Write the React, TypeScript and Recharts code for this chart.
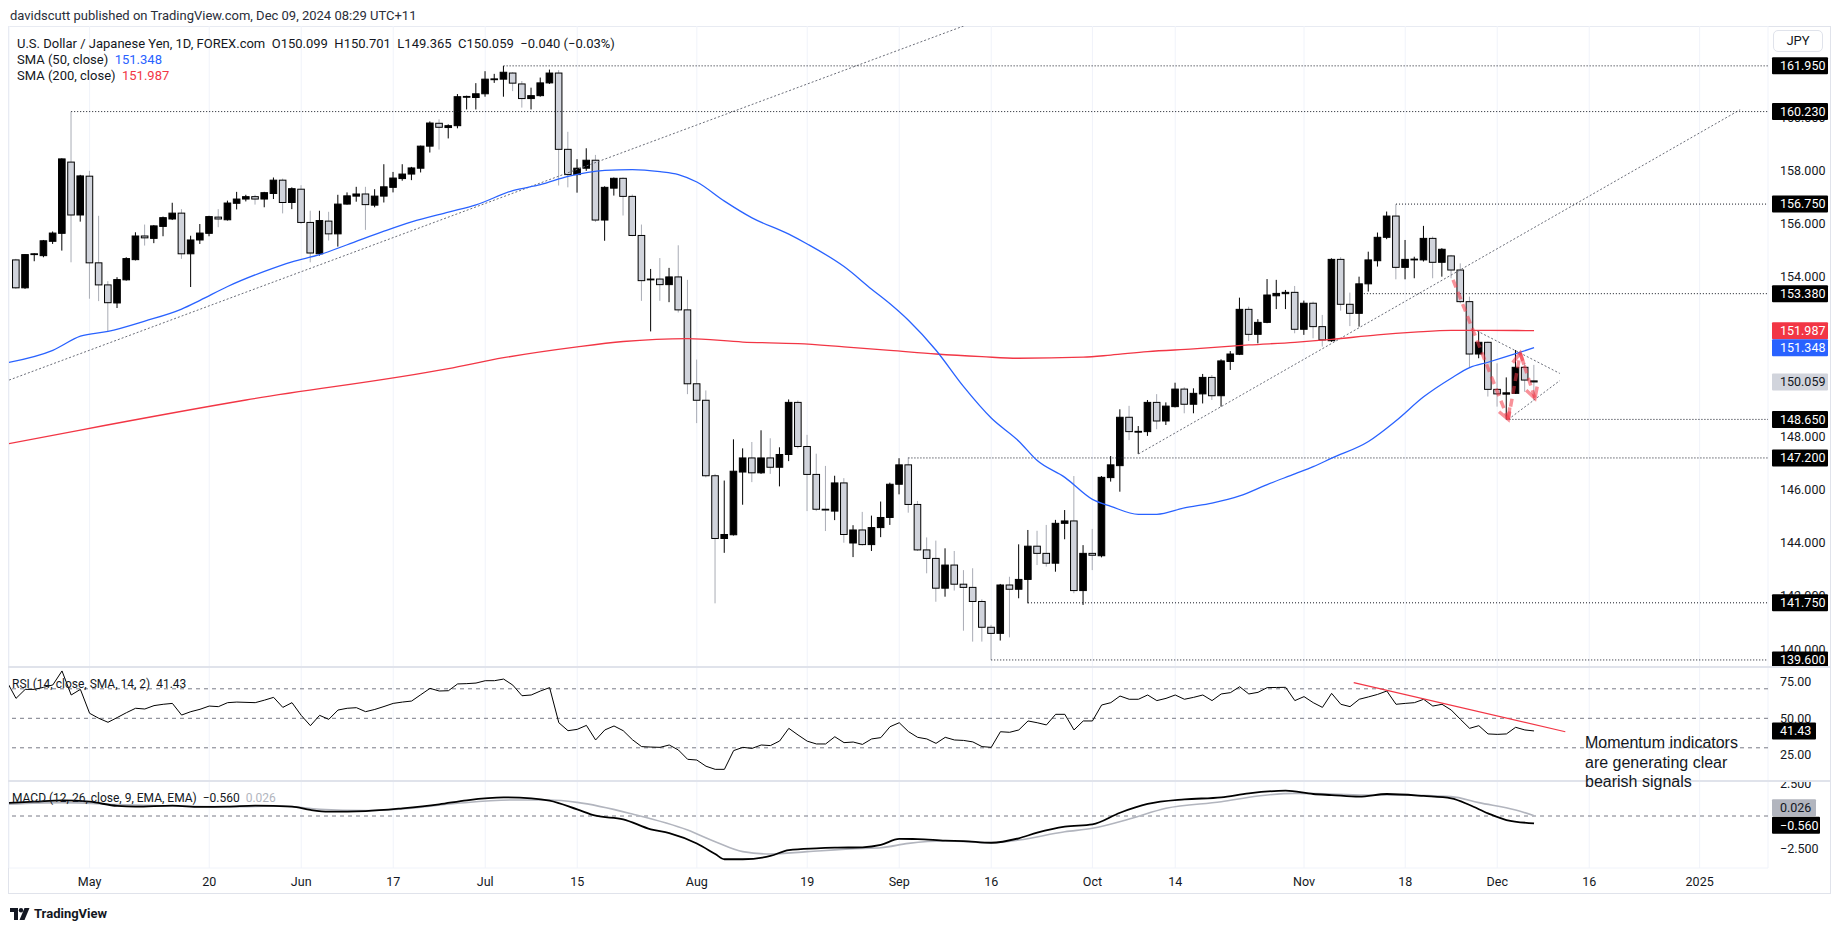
import React from 'react'
import { ComposedChart, Bar, Line, XAxis, YAxis, ReferenceLine, CartesianGrid } from 'recharts'

const W = 1835
const FONT = 'Roboto, "Noto Sans", sans-serif'

// bar index 0 = 19 Apr 2024, one bar per weekday, bar 165 = 6 Dec 2024
const opens = [
  154.65, 153.6, 154.85, 154.81, 155.35, 155.65, 158.33, 156.34, 157.8, 154.54,
  153.71, 153.03, 153.9, 154.66, 155.55, 155.46, 155.91, 156.19, 156.41, 154.88,
  155.4, 155.65, 156.26, 156.16, 156.78, 156.94, 157.03, 156.94, 157.15, 157.65,
  156.81, 157.31, 156.06, 154.88, 156.11, 155.63, 156.75, 157.05, 157.13, 156.71,
  157.05, 157.38, 157.71, 157.88, 158.1, 158.93, 159.79, 159.63, 159.7, 160.78,
  160.76, 160.9, 161.44, 161.45, 161.68, 161.27, 160.72, 160.83, 161.31, 161.68,
  158.81, 157.86, 158.1, 158.4, 156.15, 157.35, 157.72, 157.04, 155.57, 153.9,
  153.93, 153.72, 154.01, 152.77, 149.99, 149.37, 146.53, 144.17, 144.31, 146.67,
  147.2, 146.64, 147.2, 146.85, 147.33, 149.29, 147.63, 146.58, 145.27, 145.2,
  146.26, 144.0, 144.49, 143.94, 144.58, 144.96, 146.21, 146.94, 145.45, 143.74,
  143.42, 142.3, 143.17, 142.45, 142.33, 141.8, 140.83, 140.6, 142.42, 142.26,
  142.63, 143.88, 143.61, 143.24, 144.74, 144.83, 142.21, 143.61, 143.52, 146.46,
  146.91, 148.73, 148.18, 148.19, 149.29, 148.59, 149.13, 149.79, 149.22, 149.61,
  150.23, 149.54, 150.83, 151.1, 152.79, 151.85, 152.3, 153.3, 153.38, 153.43,
  152.04, 153.02, 152.14, 151.61, 154.67, 152.98, 152.64, 153.75, 154.62, 155.5,
  156.3, 154.37, 154.67, 154.65, 155.46, 154.56, 154.8, 154.27, 153.08, 151.11,
  151.55, 149.78, 149.6, 149.63, 150.61, 150.099,
]
const highs = [
  154.69, 154.87, 154.9, 155.4, 155.72, 158.47, 160.23, 157.85, 158.0, 156.31,
  153.85, 154.0, 154.75, 155.69, 155.98, 155.96, 156.28, 156.8, 156.56, 155.56,
  156.0, 156.31, 156.56, 156.88, 157.21, 157.1, 157.1, 157.21, 157.75, 157.71,
  157.38, 157.46, 156.5, 156.5, 156.46, 157.1, 157.19, 157.4, 157.4, 157.31,
  158.25, 157.96, 158.25, 158.15, 158.95, 159.86, 159.94, 159.75, 160.89, 160.83,
  161.3, 161.75, 161.65, 161.95, 161.71, 161.38, 161.13, 161.51, 161.81, 161.79,
  159.47, 158.44, 158.85, 158.6, 157.42, 157.75, 157.75, 157.11, 155.98, 154.31,
  154.72, 154.35, 155.2, 153.9, 150.9, 149.74, 146.6, 146.35, 147.9, 147.56,
  147.8, 148.24, 147.94, 147.6, 149.4, 149.36, 148.07, 147.36, 146.9, 146.53,
  146.44, 144.67, 145.17, 145.03, 145.56, 146.27, 147.19, 147.22, 145.58, 144.21,
  144.09, 143.8, 143.7, 142.98, 143.05, 141.88, 140.92, 142.46, 142.73, 143.95,
  144.49, 144.46, 144.68, 144.87, 145.24, 146.52, 143.92, 144.53, 146.52, 147.27,
  149.03, 149.16, 148.4, 149.38, 149.6, 149.29, 150.03, 149.86, 149.82, 150.36,
  150.32, 150.91, 151.22, 153.23, 152.89, 152.42, 153.93, 153.9, 153.52, 153.67,
  153.12, 153.08, 152.58, 154.71, 154.75, 153.42, 154.02, 154.96, 155.68, 156.47,
  156.75, 155.4, 154.77, 155.93, 155.53, 155.09, 154.84, 154.52, 153.27, 151.98,
  151.58, 150.76, 150.23, 151.26, 150.76, 150.701,
]
const lows = [
  153.56, 153.56, 154.6, 154.75, 155.25, 155.0, 154.56, 156.09, 153.19, 153.1,
  151.96, 152.84, 153.87, 154.63, 155.19, 155.28, 155.54, 156.15, 154.69, 153.63,
  155.25, 155.54, 155.88, 156.13, 156.55, 156.85, 156.73, 156.63, 156.94, 156.4,
  156.56, 156.0, 154.56, 154.81, 155.38, 155.15, 156.73, 156.84, 155.78, 156.63,
  156.81, 157.19, 157.63, 157.65, 157.94, 158.69, 158.8, 159.22, 159.6, 160.31,
  160.31, 160.79, 161.31, 160.79, 161.0, 160.38, 160.31, 160.79, 161.27, 157.45,
  157.38, 157.18, 158.0, 156.08, 155.37, 157.07, 156.32, 155.54, 153.11, 151.96,
  153.11, 153.06, 152.67, 149.6, 148.51, 146.47, 141.73, 143.63, 144.28, 145.44,
  146.29, 146.6, 146.6, 146.13, 147.08, 147.56, 145.2, 145.2, 144.45, 144.86,
  144.01, 143.47, 143.9, 143.7, 144.22, 144.68, 145.83, 145.14, 143.7, 142.86,
  141.79, 141.98, 142.21, 140.7, 140.29, 140.29, 139.6, 140.33, 140.45, 141.92,
  141.73, 143.17, 143.11, 142.92, 144.14, 142.11, 141.67, 142.98, 143.46, 146.31,
  145.93, 147.87, 147.35, 148.03, 148.28, 148.44, 149.1, 148.88, 148.88, 149.25,
  149.38, 149.13, 150.51, 151.07, 151.6, 151.51, 152.27, 152.8, 152.8, 151.89,
  151.83, 151.7, 151.39, 151.57, 152.74, 152.16, 152.14, 153.46, 154.4, 155.43,
  153.92, 153.92, 153.96, 154.59, 153.96, 154.02, 153.96, 153.02, 150.61, 150.95,
  149.51, 149.13, 148.65, 149.61, 149.69, 149.365,
]
const closes = [
  153.6, 154.85, 154.88, 155.37, 155.66, 158.45, 156.34, 157.81, 154.54, 153.71,
  153.04, 153.91, 154.7, 155.55, 155.48, 155.93, 156.24, 156.41, 154.88, 155.4,
  155.66, 156.28, 156.19, 156.79, 156.94, 157.03, 156.94, 157.18, 157.65, 156.81,
  157.33, 156.06, 154.91, 156.13, 155.63, 156.75, 157.06, 157.13, 156.73, 157.05,
  157.4, 157.73, 157.88, 158.11, 158.93, 159.8, 159.64, 159.7, 160.79, 160.8,
  160.9, 161.45, 161.46, 161.71, 161.3, 160.72, 160.83, 161.31, 161.68, 158.81,
  157.86, 158.1, 158.4, 156.15, 157.38, 157.72, 157.04, 155.57, 153.87, 153.93,
  153.72, 154.01, 152.77, 149.99, 149.37, 146.53, 144.17, 144.32, 146.7, 147.2,
  146.64, 147.2, 146.85, 147.33, 149.29, 147.63, 146.58, 145.27, 145.25, 146.26,
  144.32, 144.49, 143.94, 144.58, 144.96, 146.21, 146.94, 145.45, 143.74, 143.42,
  142.3, 143.17, 142.45, 142.33, 141.8, 140.83, 140.6, 142.42, 142.26, 142.63,
  143.88, 143.61, 143.24, 144.74, 144.83, 142.21, 143.61, 143.54, 146.47, 146.94,
  148.73, 148.19, 148.2, 149.29, 148.59, 149.15, 149.79, 149.22, 149.63, 150.23,
  149.54, 150.85, 151.11, 152.79, 151.85, 152.3, 153.33, 153.39, 153.43, 152.04,
  153.02, 152.14, 151.64, 154.67, 152.98, 152.64, 153.75, 154.65, 155.5, 156.3,
  154.37, 154.67, 154.68, 155.46, 154.56, 155.05, 154.27, 153.08, 151.11, 151.55,
  149.78, 149.61, 149.65, 150.61, 150.13, 150.059,
]

// RSI from bar -1 to bar 165
const rsi = [
  75,
  63.5, 69.6, 69.6, 71.0, 72.6, 82.1, 65.8, 69.6, 53.4, 50.0,
  47.3, 50.5, 53.8, 56.8, 56.3, 58.6, 59.5, 60.1, 52.2, 54.5,
  56.1, 58.3, 57.9, 60.6, 61.0, 60.8, 60.6, 62.3, 64.2, 57.4,
  60.6, 52.0, 45.0, 52.0, 49.3, 55.6, 56.8, 57.2, 54.5, 56.0,
  58.0, 60.1, 61.0, 61.7, 66.0, 70.3, 68.5, 68.7, 73.3, 73.5,
  73.9, 75.5, 75.5, 76.6, 72.5, 65.3, 65.8, 68.5, 70.8, 47.0,
  41.6, 42.5, 45.2, 35.3, 42.1, 44.8, 41.6, 35.5, 30.8, 30.5,
  30.3, 31.9, 28.5, 22.2, 21.7, 17.5, 15.4, 15.4, 28.1, 30.3,
  29.6, 31.9, 31.5, 34.6, 43.2, 38.7, 34.5, 32.6, 32.6, 37.5,
  33.5, 33.9, 32.3, 36.0, 36.9, 44.3, 47.0, 41.0, 37.1, 36.0,
  33.0, 37.1, 35.3, 35.0, 34.0, 30.8, 30.3, 40.9, 40.5, 42.1,
  48.2, 47.0, 45.5, 52.7, 52.7, 42.1, 48.2, 48.2, 59.0, 60.6,
  65.1, 62.9, 62.9, 65.8, 62.0, 63.5, 65.8, 62.9, 64.2, 65.8,
  62.0, 66.5, 67.4, 71.4, 66.5, 67.6, 70.8, 70.9, 71.0, 62.0,
  64.7, 60.6, 57.4, 66.9, 59.5, 57.9, 62.9, 64.5, 66.2, 68.5,
  59.5, 60.1, 60.6, 62.9, 58.3, 59.5, 55.6, 49.3, 43.2, 45.0,
  39.4, 39.1, 39.4, 43.9, 42.1, 41.43,
]

// [bar, value] readings of the smooth lines
const sma50 = [
  [-1, 150.78], [4, 151.25], [7, 151.78], [10, 151.96], [14, 152.35], [18, 152.8], [20, 153.13],
  [23, 153.65], [27, 154.22], [30, 154.58], [33, 154.85], [36, 155.22], [40, 155.73], [43, 156.08],
  [47, 156.45], [50, 156.72], [54, 157.26], [57, 157.48], [60, 157.79], [64, 158.02], [67, 158.05],
  [70, 157.97], [72, 157.86], [74, 157.58], [77, 156.86], [80, 156.23], [84, 155.62], [86, 155.25],
  [90, 154.4], [93, 153.55], [95, 153.0], [97, 152.38], [100, 151.25], [103, 149.88], [106, 148.7],
  [109, 147.83], [111, 147.1], [114, 146.47], [117, 145.64], [119, 145.38], [122, 145.08],
  [124, 145.08], [127, 145.32], [130, 145.5], [133, 145.77], [136, 146.2], [139, 146.6],
  [141, 146.87], [143, 147.19], [147, 147.82], [150, 148.6], [153, 149.5], [156, 150.2],
  [158, 150.6], [160, 150.8], [163, 151.12], [165, 151.348],
]
const sma200 = [
  [-1, 147.72], [7, 148.25], [25, 149.38], [47, 150.56], [53, 150.97], [61, 151.38], [66, 151.58],
  [73, 151.69], [79, 151.56], [85, 151.5], [90, 151.38], [95, 151.25], [100, 151.11], [105, 151.01],
  [109, 150.95], [116, 150.99], [119, 151.07], [123, 151.2], [128, 151.3], [134, 151.45],
  [139, 151.55], [143, 151.66], [148, 151.83], [152, 151.93], [156, 152.0], [160, 152.0], [165, 151.987],
]
const macd = [
  [-1, 1.0], [2, 1.09], [5, 1.2], [8, 1.09], [11, 0.77], [13, 0.71], [17, 0.79], [20, 0.69],
  [23, 0.71], [26, 0.79], [30, 0.71], [32, 0.46], [34, 0.33], [38, 0.38], [42, 0.59], [46, 0.89],
  [49, 1.2], [53, 1.42], [56, 1.35], [58, 1.17], [61, 0.5], [63, 0.02], [66, -0.25], [69, -1.02],
  [71, -1.3], [74, -2.1], [76, -2.9], [77, -3.3], [79, -3.3], [82, -3.05], [84, -2.6], [87, -2.47],
  [89, -2.42], [92, -2.39], [94, -2.21], [96, -1.75], [98, -1.76], [101, -1.88], [103, -1.91],
  [106, -2.04], [109, -1.7], [111, -1.27], [114, -0.81], [117, -0.64], [120, 0.25], [123, 0.92],
  [127, 1.27], [131, 1.42], [134, 1.73], [138, 1.93], [141, 1.68], [143, 1.6], [146, 1.48],
  [149, 1.68], [153, 1.53], [156, 1.35], [158, 0.84], [160, 0.2], [162, -0.31], [165, -0.56],
]
const signal = [
  [-1, 0.9], [5, 1.02], [11, 0.87], [17, 0.76], [23, 0.71], [29, 0.76], [33, 0.51], [38, 0.41],
  [42, 0.53], [48, 0.97], [54, 1.22], [58, 1.22], [61, 1.04], [67, 0.15], [73, -1.07], [76, -1.96],
  [79, -2.72], [82, -2.9], [86, -2.72], [92, -2.47], [94, -2.42], [97, -2.09], [101, -1.91],
  [106, -2.04], [109, -1.83], [114, -1.2], [117, -0.94], [121, -0.23], [125, 0.59], [131, 1.09],
  [135, 1.53], [139, 1.73], [143, 1.68], [147, 1.6], [151, 1.6], [156, 1.48], [159, 1.02],
  [163, 0.46], [165, 0.026],
]

// horizontal levels drawn on the chart (price, first bar)
const levelPrices = [161.95, 160.23, 156.75, 153.38, 148.65, 147.2, 141.75, 139.6]
const levelStarts = [53, 6, 150, 146.5, 162, 97, 110, 106]

// trend lines [bar, price, bar, price]
const trendLines = [
  [-0.75, 150.13, 103, 163.45],
  [122, 147.35, 187.4, 160.3],
  [158.8, 151.98, 167.8, 150.38],
  [162.2, 148.65, 167.8, 150.11],
]
const arrowBars = [156.2, 162.2, 163.5, 165.1]
const arrowPrices = [153.9, 148.65, 151.14, 149.44]
const rsiTrend = [145.4, 74.2, 168.4, 40.9]

const tickBars = [8, 21, 31, 41, 51, 61, 74, 86, 96, 106, 117, 126, 140, 151, 161, 171, 183]
const tickLabels = ['May', '20', 'Jun', '17', 'Jul', '15', 'Aug', '19', 'Sep', '16', 'Oct', '14', 'Nov', '18', 'Dec', '16', '2025']
const priceTicks = [140, 142, 144, 146, 148, 150, 152, 154, 156, 158, 160, 162]
const rsiTicks = [25, 50, 75]
const macdTicks = [-2.5, 2.5]

const X_DOMAIN: [number, number] = [-0.761, 190.43]

const toMap = (pts: number[][]) => new Map(pts.map(([i, v]) => [i, v]))
const m50 = toMap(sma50)
const m200 = toMap(sma200)
const mMacd = toMap(macd)
const mSig = toMap(signal)

const rows: any[] = []
for (let i = -1; i < opens.length; i++) {
  rows.push({
    i,
    range: i >= 0 ? [lows[i], highs[i]] : undefined,
    o: i >= 0 ? opens[i] : undefined,
    c: i >= 0 ? closes[i] : undefined,
    rsi: rsi[i + 1],
    sma50: m50.get(i),
    sma200: m200.get(i),
    macd: mMacd.get(i),
    signal: mSig.get(i),
  })
}

const Candle = (props: any) => {
  const { x, y, width, height, payload } = props
  if (!payload || payload.o == null || x == null) return null
  const [lo, hi] = payload.range
  const top = Math.min(y, y + height)
  const h = Math.abs(height)
  const cx = x + width / 2
  const py = (v: number) => top + ((hi - v) / (hi - lo || 1)) * h
  const up = payload.c >= payload.o
  const bTop = py(Math.max(payload.o, payload.c))
  const bBot = py(Math.min(payload.o, payload.c))
  const bw = 6.6
  return (
    <g>
      <line x1={cx} x2={cx} y1={top} y2={top + h} stroke={up ? '#000' : '#a9acb5'} strokeWidth={1} />
      <rect x={cx - bw / 2} y={bTop} width={bw} height={Math.max(bBot - bTop, 0.8)}
        fill={up ? '#000' : '#d1d4dc'} stroke="#000" strokeWidth={1} />
    </g>
  )
}

// value tag on the price scale
const PriceTag = (props: any) => {
  const { viewBox, text, bg, color, dy = 0, w = 56 } = props
  if (!viewBox) return null
  const x = viewBox.x + viewBox.width + 4
  const y = viewBox.y + dy
  return (
    <g>
      <rect x={x} y={y - 8.5} width={w} height={17} fill={bg} rx={1} />
      <text x={x + 8} y={y + 4.3} fill={color} fontSize={12.5} fontFamily={FONT}>{text}</text>
    </g>
  )
}

// plain scale label, drawn in the reference layer so tags can cover it
const ScaleLabel = (props: any) => {
  const { viewBox, text } = props
  if (!viewBox) return null
  return (
    <text x={viewBox.x + viewBox.width + 12} y={viewBox.y + 4.3} fill="#131722" fontSize={12.5} fontFamily={FONT}>
      {text}
    </text>
  )
}

const ArrowSeg = (props: any) => {
  const { x1, y1, x2, y2 } = props
  const a = Math.atan2(y2 - y1, x2 - x1)
  const L = 12
  const p = (s: number) => `${x2 - L * Math.cos(a + s * 0.5)},${y2 - L * Math.sin(a + s * 0.5)}`
  const col = 'rgba(242, 54, 69, 0.55)'
  return (
    <g>
      <line x1={x1} y1={y1} x2={x2} y2={y2} stroke={col} strokeWidth={3.5} strokeDasharray="8 5" />
      <polyline points={`${p(1)} ${x2},${y2} ${p(-1)}`} fill="none" stroke={col} strokeWidth={3.5} />
    </g>
  )
}

const timeTick = (p: any) => {
  const k = tickBars.indexOf(p.payload.value)
  return (
    <text x={p.x} y={p.y} dy={10} fill="#131722" fontSize={12.5} fontFamily={FONT} textAnchor="middle">
      {tickLabels[k]}
    </text>
  )
}

const scaleLabels = (ticks: number[], fmt: (v: number) => string) =>
  ticks.map((v) => (
    <ReferenceLine key={'sl' + v} y={v} stroke="none" label={<ScaleLabel text={fmt(v)} />} />
  ))

const gridProps = { stroke: '#f0f3fa', strokeWidth: 1 }
const margin = { top: 0, right: 0, bottom: 0, left: 9 }

const PriceChart = () => (
  <ComposedChart width={W} height={641} data={rows} margin={margin}>
    <CartesianGrid {...gridProps} />
    <XAxis dataKey="i" type="number" domain={X_DOMAIN} ticks={tickBars} allowDataOverflow hide />
    <YAxis orientation="right" type="number" domain={[139.335, 163.45]} ticks={priceTicks} interval={0}
      width={67} axisLine={false} tickLine={false} tick={false} allowDataOverflow />
    {scaleLabels(priceTicks, (v) => v.toFixed(3))}
    {trendLines.map((t, k) => (
      <ReferenceLine key={'tl' + k} segment={[{ x: t[0], y: t[1] }, { x: t[2], y: t[3] }]}
        stroke="#6a6d78" strokeDasharray="2 2" ifOverflow="visible" />
    ))}
    {levelPrices.map((lv, k) => (
      <ReferenceLine key={'lv' + k} segment={[{ x: levelStarts[k], y: lv }, { x: X_DOMAIN[1], y: lv }]}
        stroke="#131722" strokeDasharray="1 2" ifOverflow="visible"
        label={<PriceTag text={lv.toFixed(3)} bg="#000" color="#fff" />} />
    ))}
    <Line dataKey="sma200" stroke="#f23645" strokeWidth={1.3} dot={false} connectNulls type="monotone" isAnimationActive={false} />
    <Line dataKey="sma50" stroke="#2962ff" strokeWidth={1.3} dot={false} connectNulls type="monotone" isAnimationActive={false} />
    <Bar dataKey="range" shape={(p: any) => <Candle {...p} />} isAnimationActive={false} />
    {arrowBars.slice(1).map((b, k) => (
      <ReferenceLine key={'ar' + k} ifOverflow="visible"
        segment={[{ x: arrowBars[k], y: arrowPrices[k] }, { x: b, y: arrowPrices[k + 1] }]}
        shape={(p: any) => <ArrowSeg {...p} />} />
    ))}
    <ReferenceLine y={151.987} stroke="none" label={<PriceTag text="151.987" bg="#f23645" color="#fff" />} />
    <ReferenceLine y={151.348} stroke="none" label={<PriceTag text="151.348" bg="#2962ff" color="#fff" />} />
    <ReferenceLine y={150.059} stroke="none" label={<PriceTag text="150.059" bg="#d1d4dc" color="#131722" />} />
  </ComposedChart>
)

const RsiChart = () => (
  <ComposedChart width={W} height={114} data={rows} margin={margin}>
    <CartesianGrid {...gridProps} />
    <XAxis dataKey="i" type="number" domain={X_DOMAIN} ticks={tickBars} allowDataOverflow hide />
    <YAxis orientation="right" type="number" domain={[7.49, 84.78]} ticks={rsiTicks} interval={0}
      width={67} axisLine={false} tickLine={false} tick={false} allowDataOverflow />
    {scaleLabels(rsiTicks, (v) => v.toFixed(2))}
    {[70, 50, 30].map((v) => (
      <ReferenceLine key={v} y={v} stroke="#787b86" strokeDasharray="4 4" />
    ))}
    <Line dataKey="rsi" stroke="#000" strokeWidth={1} dot={false} type="linear" isAnimationActive={false} />
    <ReferenceLine segment={[{ x: rsiTrend[0], y: rsiTrend[1] }, { x: rsiTrend[2], y: rsiTrend[3] }]}
      stroke="#f23645" strokeWidth={1.2} ifOverflow="visible" />
    <ReferenceLine y={41.43} stroke="none" label={<PriceTag text="41.43" bg="#000" color="#fff" w={44} />} />
  </ComposedChart>
)

const MacdChart = () => (
  <ComposedChart width={W} height={114} data={rows} margin={margin}>
    <CartesianGrid {...gridProps} />
    <XAxis dataKey="i" type="number" domain={X_DOMAIN} ticks={tickBars} interval={0} allowDataOverflow
      height={27} axisLine={false} tickLine={false} tick={timeTick} />
    <YAxis orientation="right" type="number" domain={[-3.969, 2.672]} ticks={macdTicks} interval={0}
      width={67} axisLine={false} tickLine={false} tick={false} allowDataOverflow />
    {scaleLabels(macdTicks, (v) => (v < 0 ? '\u2212' + Math.abs(v).toFixed(3) : v.toFixed(3)))}
    <ReferenceLine y={0} stroke="#787b86" strokeDasharray="4 4" />
    <Line dataKey="signal" stroke="#b2b5be" strokeWidth={1.6} dot={false} connectNulls type="monotone" isAnimationActive={false} />
    <Line dataKey="macd" stroke="#000" strokeWidth={1.8} dot={false} connectNulls type="monotone" isAnimationActive={false} />
    <ReferenceLine y={0.026} stroke="none" label={<PriceTag text="0.026" bg="#b2b5be" color="#131722" w={44} dy={-8} />} />
    <ReferenceLine y={-0.56} stroke="none" label={<PriceTag text={'\u22120.560'} bg="#000" color="#fff" w={48} dy={2} />} />
  </ComposedChart>
)

const abs = (left: number, top: number, extra: React.CSSProperties = {}): React.CSSProperties => ({
  position: 'absolute', left, top, ...extra,
})

export default function App() {
  const txt: React.CSSProperties = { fontFamily: FONT, fontSize: 13, color: '#131722', whiteSpace: 'pre', lineHeight: '16px' }
  return (
    <div style={{ position: 'absolute', left: 0, top: 0, width: W, height: 931, background: '#fff', overflow: 'hidden' }}>
      <div style={abs(10, 8, { ...txt, color: '#2a2e39' })}>davidscutt published on TradingView.com, Dec 09, 2024 08:29 UTC+11</div>
      <div style={abs(8, 26, { width: 1823, height: 868, border: '1px solid #e0e3eb', boxSizing: 'border-box' })} />
      <div style={abs(0, 26)}><PriceChart /></div>
      <div style={abs(0, 667)}><RsiChart /></div>
      <div style={abs(0, 781)}><MacdChart /></div>
      <div style={abs(8, 666, { width: 1823, height: 2, background: '#e0e3eb' })} />
      <div style={abs(8, 780, { width: 1823, height: 2, background: '#e0e3eb' })} />

      <div style={abs(17, 36, txt)}>
        {'U.S. Dollar / Japanese Yen, 1D, FOREX.com  O150.099  H150.701  L149.365  C150.059  \u22120.040 (\u22120.03%)'}
      </div>
      <div style={abs(17, 52, txt)}>SMA (50, close)  <span style={{ color: '#2962ff' }}>151.348</span></div>
      <div style={abs(17, 68, txt)}>SMA (200, close)  <span style={{ color: '#f23645' }}>151.987</span></div>

      <div style={abs(12, 676, { ...txt, fontSize: 12 })}>RSI (14, close, SMA, 14, 2)  41.43</div>
      <div style={abs(12, 790, { ...txt, fontSize: 12 })}>
        MACD (12, 26, close, 9, EMA, EMA)  {'\u22120.560'}  <span style={{ color: '#b2b5be' }}>0.026</span>
      </div>

      <div style={abs(1585, 733, { fontFamily: '"Liberation Sans", Arial, sans-serif', fontSize: 16, lineHeight: '19.5px', color: '#131722', whiteSpace: 'pre' })}>
        {'Momentum indicators\nare generating clear\nbearish signals'}
      </div>

      <div style={abs(1773, 30, { width: 50, height: 22, border: '1px solid #e0e3eb', borderRadius: 5, boxSizing: 'border-box', ...txt, lineHeight: '20px', textAlign: 'center' })}>JPY</div>

      <div style={abs(10, 906, { display: 'flex', alignItems: 'center', gap: 4 })}>
        <svg width="20" height="12" viewBox="0 0 20 12">
          <path d="M0 0h8v12H4V4H0z" fill="#131722" />
          <circle cx="11" cy="2.2" r="2.2" fill="#131722" />
          <path d="M14.5 0h5l-5 12h-5z" fill="#131722" />
        </svg>
        <span style={{ ...txt, fontWeight: 700, fontSize: 13 }}>TradingView</span>
      </div>
    </div>
  )
}
